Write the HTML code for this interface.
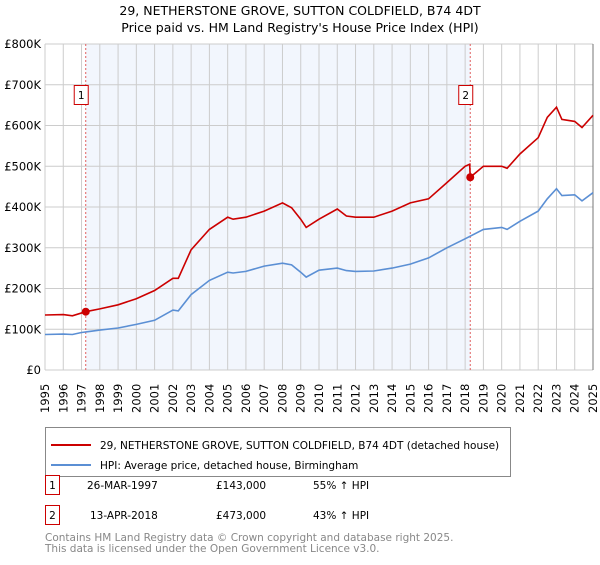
<!DOCTYPE html>
<html><head><meta charset="utf-8"><style>
body{margin:0;background:#fff;font-family:"Liberation Sans","DejaVu Sans",sans-serif;}
svg text{font-family:"DejaVu Sans","Liberation Sans",sans-serif;}
</style></head><body>
<svg id="c" width="600" height="560" xmlns="http://www.w3.org/2000/svg">
<text x="300" y="15" text-anchor="middle" font-size="12.5">29, NETHERSTONE GROVE, SUTTON COLDFIELD, B74 4DT</text>
<text x="300" y="32" text-anchor="middle" font-size="12.5">Price paid vs. HM Land Registry's House Price Index (HPI)</text>
<g id="plot"></g>
<g>
<rect x="45.5" y="427.5" width="465" height="49" fill="#fff" stroke="#888"/>
<line x1="51" y1="445" x2="91" y2="445" stroke="#cc0000" stroke-width="2"/>
<text x="100" y="449" font-size="10.5">29, NETHERSTONE GROVE, SUTTON COLDFIELD, B74 4DT (detached house)</text>
<line x1="51" y1="465" x2="91" y2="465" stroke="#5b8fd4" stroke-width="2"/>
<text x="100" y="469" font-size="10.5">HPI: Average price, detached house, Birmingham</text>
</g>
<g font-size="10.5">
<rect x="45.5" y="475.5" width="14" height="19" fill="#fff" stroke="#cc0000"/><text x="52.5" y="489" text-anchor="middle">1</text>
<text x="87" y="489">26-MAR-1997</text><text x="216" y="489">£143,000</text><text x="313" y="489">55% ↑ HPI</text>
<rect x="45.5" y="505.5" width="14" height="19" fill="#fff" stroke="#cc0000"/><text x="52.5" y="519" text-anchor="middle">2</text>
<text x="90" y="519">13-APR-2018</text><text x="216" y="519">£473,000</text><text x="313" y="519">43% ↑ HPI</text>
</g>
<text x="45" y="541" font-size="10.5" fill="#888">Contains HM Land Registry data © Crown copyright and database right 2025.</text>
<text x="45" y="552" font-size="10.5" fill="#888">This data is licensed under the Open Government Licence v3.0.</text>
</svg>
<script>
const yearTicks=[1995,1996,1997,1998,1999,2000,2001,2002,2003,2004,2005,2006,2007,2008,2009,2010,2011,2012,2013,2014,2015,2016,2017,2018,2019,2020,2021,2022,2023,2024,2025];
const valueTicks=[0,100,200,300,400,500,600,700,800];
const valueLabels=["£0","£100K","£200K","£300K","£400K","£500K","£600K","£700K","£800K"];
const hpiYears=[1995,1996,1996.5,1997,1997.5,1998,1999,2000,2001,2002,2002.3,2003,2004,2005,2005.3,2006,2007,2008,2008.5,2009,2009.3,2010,2011,2011.5,2012,2013,2014,2015,2016,2017,2018,2019,2020,2020.3,2021,2022,2022.5,2023,2023.3,2024,2024.4,2025];
const hpiValues=[87,88,87,92,95,98,103,112,122,147,145,185,220,240,238,242,255,262,258,240,228,245,250,244,242,243,250,260,275,300,322,345,350,345,365,390,420,445,428,430,415,435];
const propYears=[1995,1996,1996.5,1997.23,1998,1999,2000,2001,2002,2002.3,2003,2004,2005,2005.3,2006,2007,2008,2008.5,2009,2009.3,2010,2011,2011.5,2012,2013,2014,2015,2016,2017,2018,2018.25,2018.28,2019,2020,2020.3,2021,2022,2022.5,2023,2023.3,2024,2024.4,2025];
const propValues=[135,136,133,143,150,160,175,195,225,225,295,345,375,370,375,390,410,398,370,350,370,395,378,375,375,390,410,420,460,500,505,473,500,500,495,530,570,620,645,615,610,595,625];
const saleYears=[1997.23,2018.28];
const saleValues=[143,473];
const saleLabels=["1","2"];
const X0=45,X1=593,Y0=370,Y1=44,ymax=800;
const xs=t=>X0+(t-1995)/30*(X1-X0);
const ys=v=>Y0-v/ymax*(Y0-Y1);
const NS="http://www.w3.org/2000/svg";
const plot=document.getElementById('plot');
function mk(tag,attrs){const e=document.createElementNS(NS,tag);for(const k in attrs)e.setAttribute(k,attrs[k]);plot.appendChild(e);return e;}
let r=mk('rect',{x:xs(saleYears[0]),y:Y1,width:xs(saleYears[1])-xs(saleYears[0]),height:Y0-Y1,fill:'#f2f6fd'});


yearTicks.forEach(t=>{
 const l=mk('line',{x1:xs(t),x2:xs(t),y1:Y1,y2:Y0,stroke:'#ccc'});
 
 
 const tx=mk('text',{transform:`translate(${xs(t)+4},${Y0+43}) rotate(-90)`,'font-size':'11.5'});
 tx.textContent=t;
 
 
});
valueTicks.forEach((v,i)=>{
 const l=mk('line',{x1:X0,x2:X1,y1:ys(v),y2:ys(v),stroke:'#ccc'});
 
 
 const tx=mk('text',{x:41,y:ys(v)+4,'text-anchor':'end','font-size':'11.5'});
 tx.textContent=valueLabels[i];
 
 
});
let ax=mk('line',{x1:X1,x2:X1,y1:Y1,y2:Y0,stroke:'#777'});


saleYears.forEach((t,i)=>{
 const l=mk('line',{x1:xs(t),x2:xs(t),y1:Y1,y2:Y0,stroke:'#e06060','stroke-dasharray':'2,2'});
 
 
 const b=mk('rect',{x:xs(t)-11.5,y:85.5,width:14,height:19,fill:'#fff',stroke:'#cc0000'});
 
 
 const tx=mk('text',{x:xs(t)-4.5,y:99,'text-anchor':'middle','font-size':'10.5'});
 tx.textContent=saleLabels[i];
 
 
});
function pts(xa,va){return xa.map((t,i)=>xs(t).toFixed(1)+','+ys(va[i]).toFixed(1)).join(' ');}
let h=mk('polyline',{points:pts(hpiYears,hpiValues),fill:'none',stroke:'#5b8fd4','stroke-width':1.6});


let p=mk('polyline',{points:pts(propYears,propValues),fill:'none',stroke:'#cc0000','stroke-width':1.6});


saleYears.forEach((t,i)=>{
 const c=mk('circle',{cx:xs(t),cy:ys(saleValues[i]),r:4,fill:'#cc0000'});
 
 
});
</script>
</body></html>
